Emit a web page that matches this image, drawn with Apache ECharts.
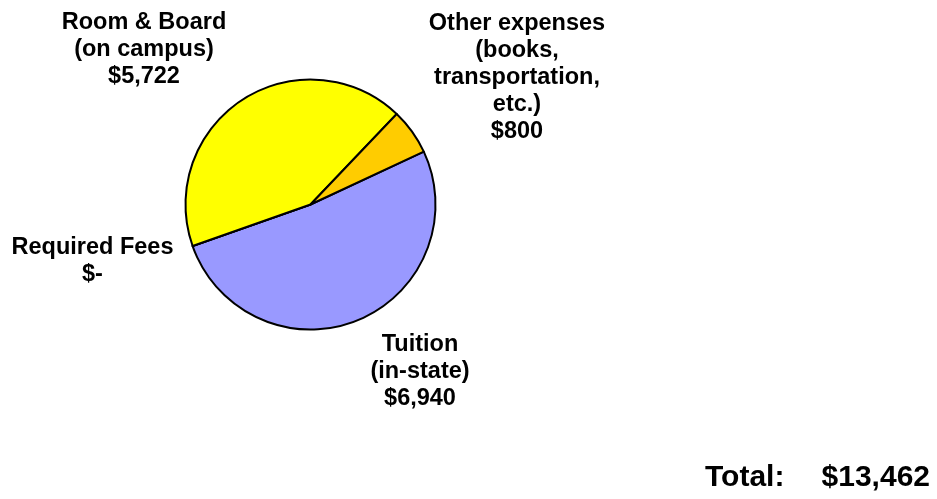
<!DOCTYPE html>
<html>
<head>
<meta charset="utf-8">
<style>html,body{margin:0;padding:0;background:#fff;}#c{width:937px;height:499px;}</style>
<script src="https://cdn.jsdelivr.net/npm/echarts@6/dist/echarts.min.js"></script>
</head>
<body>
<div id="c"></div>
<script>
const categories = ['Tuition\n(in-state)', 'Required Fees', 'Room & Board\n(on campus)', 'Other expenses\n(books,\ntransportation,\netc.)'];
const values = [6940, 0, 5722, 800];
const colors = ['#9999FF', '#FFFFFF', '#FFFF00', '#FFCC00'];
const totalLabel = 'Total:';
const totalValue = '$13,462';

const labelPos = [[420, 372], [92.5, 261], [144, 50], [517, 78]];

function fmt(v) {
  return v === 0 ? '$-' : '$' + v.toLocaleString('en-US');
}

const chart = echarts.init(document.getElementById('c'), null, {renderer: 'canvas'});
chart.setOption({
  animation: false,
  backgroundColor: '#ffffff',
  series: [{
    type: 'pie',
    center: [310.5, 204.5],
    radius: 125,
    startAngle: 25,
    clockwise: true,
    avoidLabelOverlap: false,
    minAngle: 0,
    data: categories.map((c, i) => ({name: c, value: values[i], itemStyle: {color: colors[i]}})),
    itemStyle: {borderColor: '#000', borderWidth: 2},
    emphasis: {disabled: true},
    label: {
      show: true,
      position: 'outside',
      formatter: p => p.name + '\n' + fmt(p.value),
      fontFamily: 'Liberation Sans, Arial, sans-serif',
      fontWeight: 'bold',
      fontSize: 23.5,
      lineHeight: 27,
      color: '#000',
      align: 'center'
    },
    labelLine: {show: false},
    labelLayout: function (params) {
      const p = labelPos[params.dataIndex];
      return {x: p[0], y: p[1], align: 'center', verticalAlign: 'middle'};
    }
  }],
  graphic: [
    {type: 'text', left: 705, top: 463, style: {text: totalLabel, font: 'bold 30px "Liberation Sans", Arial, sans-serif', fill: '#000'}},
    {type: 'text', right: 7, top: 463, style: {text: totalValue, font: 'bold 30px "Liberation Sans", Arial, sans-serif', fill: '#000'}}
  ]
});
</script>
</body>
</html>
